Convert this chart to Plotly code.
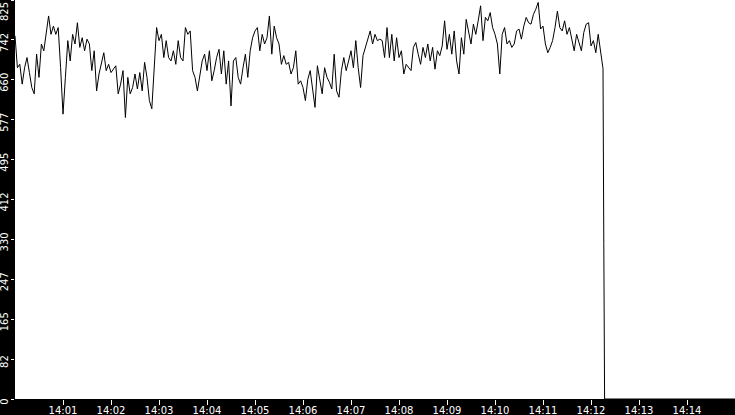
import pandas as pd
import plotly.graph_objects as go

# readings every 3 seconds from 14:00:00
start = pd.Timestamp("2024-01-01 14:00:00")
step_s = 3

seg1 = [751, 685, 692, 651, 685, 706, 675, 644, 631, 713,
        665, 734, 720, 754, 792, 754, 771, 754, 768, 685,
        589, 665, 741, 699, 754, 734, 778, 727, 747, 720,
        744, 734, 679, 720, 637, 672, 692, 716, 679, 692,
        675, 682]
seg2 = [689, 631, 651, 679, 582, 665, 631, 644, 672, 641,
        675, 637, 696, 665, 617, 600, 685, 768, 741, 754,
        706, 741, 706, 699, 720, 692, 741, 706, 699, 768,
        754, 761, 679, 665, 637, 668, 699, 713, 679, 720,
        658, 679]
seg3 = [706, 723, 672, 720, 651, 699, 606, 699, 706, 665,
        651, 685, 713, 665, 720, 747, 761, 768, 720, 754,
        734, 747, 792, 713, 771, 747, 734, 692, 710, 692,
        696, 672, 685, 720, 651, 658, 644, 617, 661, 679,
        637, 603]
seg4 = [689, 658, 631, 685, 665, 655, 641, 713, 637, 624,
        679, 706, 679, 699, 720, 685, 741, 685, 644, 710,
        727, 747, 761, 734, 754, 741, 744, 741, 706, 768,
        706, 754, 699, 747, 706, 720, 672, 692, 685, 679,
        727, 737]
seg5 = [713, 692, 727, 706, 734, 699, 727, 682, 720, 710,
        730, 782, 723, 754, 713, 761, 699, 672, 747, 713,
        785, 761, 734, 775, 754, 782, 813, 741, 789, 782,
        799, 768, 754, 734, 672, 754, 768, 734, 741, 727,
        734, 761]
seg6 = [765, 744, 771, 789, 778, 775, 795, 806, 820, 765,
        771, 734, 716, 727, 741, 768, 802, 768, 761, 782,
        754, 768, 741, 720, 754, 737, 720, 758, 775, 778,
        730, 741, 716, 754, 723, 683]

# the drop at the end (seconds after 14:00)
tail_seconds = [736, 737, 900]
tail_values = [322, 0, 0]

y_tickvals = [0, 82.5, 165, 247.5, 330, 412.5, 495, 577.5, 660, 742.5, 825]
y_ticktext = ["0", "82", "165", "247", "330", "412", "495", "577", "660", "742", ""]
x_ticks = ["14:01", "14:02", "14:03", "14:04", "14:05", "14:06", "14:07",
           "14:08", "14:09", "14:10", "14:11", "14:12", "14:13", "14:14"]

values = seg1 + seg2 + seg3 + seg4 + seg5 + seg6
times = [start + pd.Timedelta(seconds=step_s * i) for i in range(len(values))]
times += [start + pd.Timedelta(seconds=s) for s in tail_seconds]
values += tail_values

x_tickvals = [pd.Timestamp("2024-01-01 " + t) for t in x_ticks]

fig = go.Figure()
fig.add_trace(go.Scatter(x=times, y=values, mode="lines",
                         line=dict(color="black", width=1), hoverinfo="skip"))

fig.update_layout(
    width=735, height=415,
    margin=dict(l=15, r=0, t=0, b=16, autoexpand=False),
    paper_bgcolor="black", plot_bgcolor="white",
    showlegend=False,
    font=dict(family="DejaVu Sans", size=10, color="white"),
)
fig.update_xaxes(
    range=[start, start + pd.Timedelta(minutes=15)],
    tickvals=x_tickvals, ticktext=x_ticks,
    ticks="outside", ticklen=5, tickcolor="white", tickwidth=1,
    showgrid=False, zeroline=False, showline=False,
    automargin=False, ticklabelstandoff=-3,
)
fig.update_yaxes(
    range=[0, 825],
    tickvals=y_tickvals, ticktext=y_ticktext, tickangle=-90,
    ticks="outside", ticklen=3, tickcolor="white", tickwidth=1,
    showgrid=False, zeroline=False, showline=False,
    automargin=False, ticklabelshift=4, ticklabelstandoff=-1,
)
fig.add_annotation(text="825", xref="paper", yref="paper", x=0, y=1,
                   xanchor="right", yanchor="top", xshift=-3, textangle=-90,
                   showarrow=False, font=dict(color="white", size=10))

fig.write_html("out.html", config={"displayModeBar": False},
               post_script="document.body.style.margin='0';document.body.style.background='black';")
